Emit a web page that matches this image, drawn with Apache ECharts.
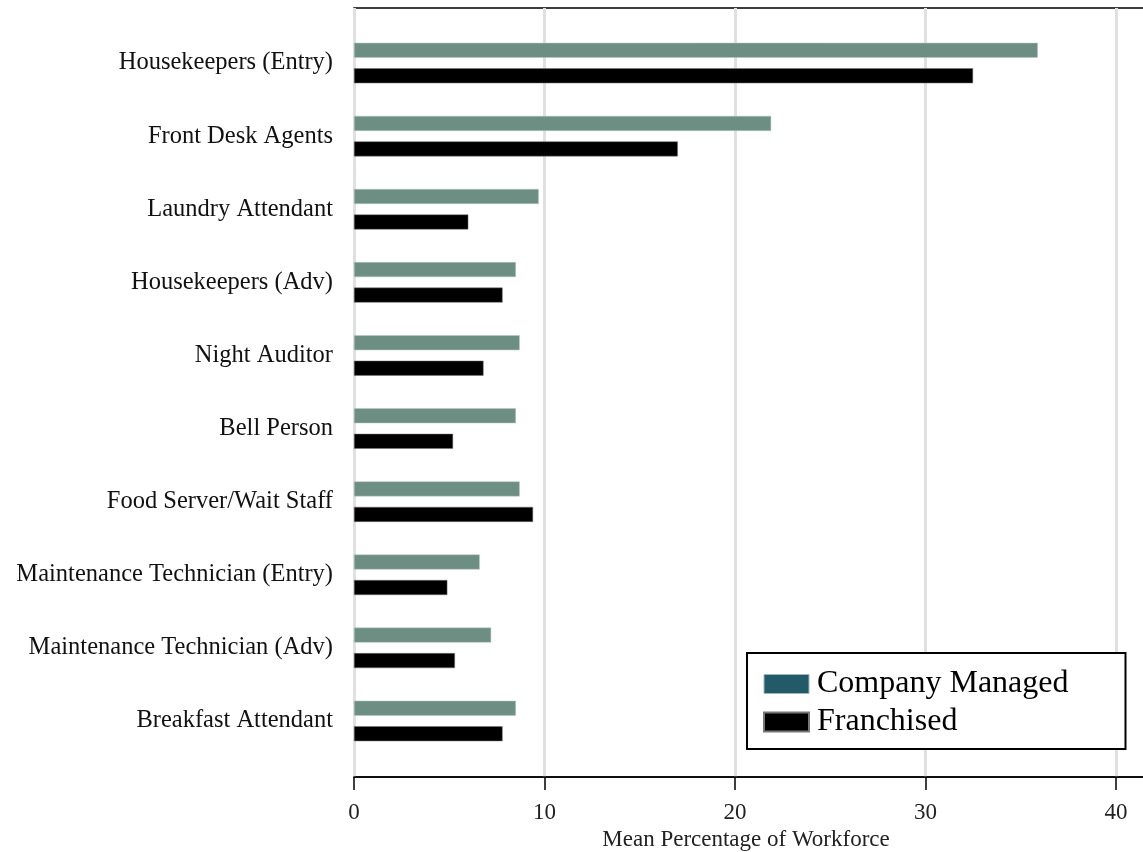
<!DOCTYPE html>
<html>
<head>
<meta charset="utf-8">
<script src="https://cdn.jsdelivr.net/npm/echarts@6/dist/echarts.min.js"></script>
<style>
html,body{margin:0;padding:0;background:#fff;}
#chart{width:1143px;height:852px;}
</style>
</head>
<body>
<div id="chart"></div>
<script>
const categories = [
  'Housekeepers (Entry)',
  'Front Desk Agents',
  'Laundry Attendant',
  'Housekeepers (Adv)',
  'Night Auditor',
  'Bell Person',
  'Food Server/Wait Staff',
  'Maintenance Technician (Entry)',
  'Maintenance Technician (Adv)',
  'Breakfast Attendant'
];
const companyManaged = [35.9, 21.9, 9.7, 8.5, 8.7, 8.5, 8.7, 6.6, 7.2, 8.5];
const franchised = [32.5, 17.0, 6.0, 7.8, 6.8, 5.2, 9.4, 4.9, 5.3, 7.8];
const xTicks = [0, 10, 20, 30, 40];
const seriesNames = ['Company Managed', 'Franchised'];
const axisTitle = 'Mean Percentage of Workforce';

const FONT = '"Liberation Serif", "Times New Roman", serif';
const chart = echarts.init(document.getElementById('chart'), null, {renderer: 'canvas'});

const option = {
  animation: false,
  backgroundColor: '#ffffff',
  grid: [
    {left: 354, width: 800, top: 8, bottom: 75, outerBoundsMode: 'none', containLabel: false,
     show: true, borderColor: '#000', borderWidth: 1.5, backgroundColor: 'transparent'},
    {left: 354, width: 800, top: 26.5, bottom: 94.5, outerBoundsMode: 'none', containLabel: false}
  ],
  xAxis: [
    {
      gridIndex: 0, type: 'value', min: 0, max: 42, interval: 10,
      axisLine: {show: true, lineStyle: {color: '#000', width: 1.5}},
      axisTick: {show: true, length: 13, inside: false, lineStyle: {color: '#000', width: 1.5}},
      axisLabel: {
        margin: 24, color: '#222', fontFamily: FONT, fontSize: 23,
        formatter: v => (xTicks.indexOf(v) >= 0 ? String(v) : '')
      },
      splitLine: {show: true, lineStyle: {color: '#e0e0e0', width: 3}},
      name: axisTitle, nameLocation: 'middle', nameGap: 46,
      nameTextStyle: {color: '#222', fontFamily: FONT, fontSize: 23, padding: [0, 16, 0, 0]}
    },
    {
      gridIndex: 1, type: 'value', min: 0, max: 42,
      show: false
    }
  ],
  yAxis: [
    {
      gridIndex: 0, type: 'value', min: 0, max: 1,
      axisLine: {show: false}, axisTick: {show: false}, axisLabel: {show: false}, splitLine: {show: false}
    },
    {
      gridIndex: 1, type: 'category', data: categories, inverse: true,
      axisLine: {show: false}, axisTick: {show: false}, splitLine: {show: false},
      axisLabel: {margin: 21, color: '#111', fontFamily: FONT, fontSize: 24.5}
    }
  ],
  legend: {
    orient: 'vertical',
    left: 747, top: 653,
    padding: [15, 57, 11, 16],
    borderColor: '#000', borderWidth: 2, backgroundColor: '#fff',
    itemWidth: 45, itemHeight: 19, itemGap: 6,
    icon: 'rect',
    textStyle: {color: '#000', fontFamily: FONT, fontSize: 32, padding: [0, 0, 0, 3]},
    data: [
      {name: seriesNames[0], itemStyle: {color: '#235a68', borderColor: '#9bb8c0', borderWidth: 1}},
      {name: seriesNames[1], itemStyle: {color: '#000'}}
    ]
  },
  series: [
    {
      name: seriesNames[0], type: 'bar', xAxisIndex: 1, yAxisIndex: 1,
      data: companyManaged, barWidth: 15, barGap: '70%',
      itemStyle: {color: '#6d8e83', borderColor: '#b7c9c3', borderWidth: 0.5}
    },
    {
      name: seriesNames[1], type: 'bar', xAxisIndex: 1, yAxisIndex: 1,
      data: franchised, barWidth: 15, barGap: '70%',
      itemStyle: {color: '#000', borderColor: '#777', borderWidth: 0.5}
    }
  ]
};
chart.setOption(option);
</script>
</body>
</html>
